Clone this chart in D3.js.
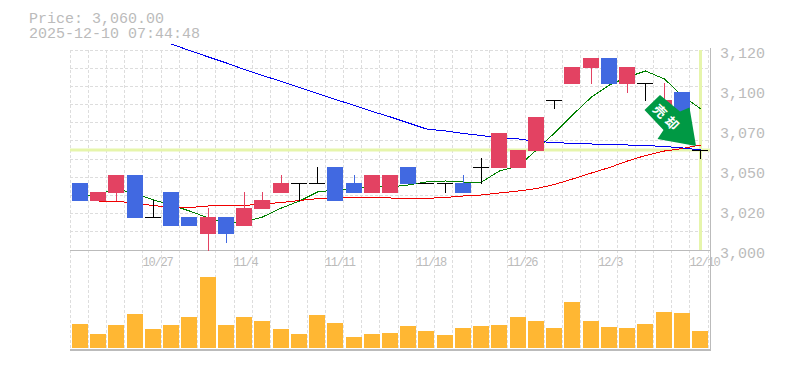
<!DOCTYPE html>
<html>
<head>
<meta charset="utf-8">
<script src="https://cdn.jsdelivr.net/npm/d3@7"></script>
<style>
html, body { margin: 0; padding: 0; background: #fff; }
svg { display: block; }
text { font-family: "Liberation Mono", monospace; fill: #bbb; }
</style>
</head>
<body>
<script>
const titleLines = ["Price: 3,060.00", "2025-12-10 07:44:48"]

const opens = [3040, 3030, 3035, 3045, 3020, 3035, 3020, 3010, 3020, 3015, 3025, 3035, 3040, 3040, 3050, 3040, 3035, 3035, 3050, 3040, 3040, 3040, 3050, 3050, 3050, 3060, 3090, 3100, 3110, 3115, 3100, 3100, 3080, 3095, 3060]
const closes = [3030, 3035, 3045, 3020, 3020, 3015, 3015, 3020, 3010, 3025, 3030, 3040, 3040, 3040, 3030, 3035, 3045, 3045, 3040, 3040, 3040, 3035, 3050, 3070, 3060, 3080, 3090, 3110, 3115, 3100, 3110, 3100, 3090, 3080, 3060]
const highs = [3040, 3035, 3045, 3045, 3030, 3035, 3020, 3025, 3020, 3035, 3035, 3045, 3040, 3050, 3050, 3045, 3045, 3045, 3050, 3040, 3040, 3045, 3055, 3070, 3060, 3080, 3090, 3110, 3115, 3115, 3110, 3100, 3100, 3095, 3060]
const lows = [3030, 3030, 3030, 3020, 3020, 3015, 3015, 3000, 3005, 3015, 3025, 3035, 3030, 3040, 3030, 3035, 3035, 3035, 3040, 3040, 3035, 3035, 3040, 3050, 3050, 3060, 3085, 3100, 3100, 3100, 3095, 3090, 3080, 3080, 3055]
const volumes = [80, 47, 77, 113, 63, 77, 103, 237, 77, 103, 90, 63, 47, 110, 83, 37, 47, 50, 73, 57, 43, 67, 73, 77, 103, 90, 67, 153, 90, 70, 67, 80, 120, 117, 57]

const maShort = [3031.8, 3033.6, 3036.6, 3033.9, 3030, 3027, 3023.4, 3019.2, 3016.2, 3016.8, 3019.8, 3025.2, 3029.4, 3034.8, 3036, 3036.6, 3038.4, 3037.8, 3039, 3040.8, 3041.4, 3040.8, 3040.8, 3047.4, 3050.4, 3060, 3070.2, 3081, 3091.8, 3099, 3103.8, 3107.4, 3102.6, 3092.4, 3084.8]
const maMid = [null, 3029.4, 3029.4, 3027.9, 3026.7, 3025.6, 3025.5, 3026.4, 3026.7, 3026.7, 3027.6, 3028.5, 3029.7, 3030.8, 3031.5, 3031.6, 3031.6, 3031.2, 3031, 3031, 3031.5, 3032.4, 3033, 3034.2, 3035.4, 3036.9, 3039.3, 3042.6, 3046.2, 3049.5, 3053.4, 3056.7, 3059.4, 3060.9, 3063]
const maLong = [null, null, null, null, null, 3123.6, 3119.7, 3115.8, 3112.2, 3108.3, 3104.7, 3101.1, 3097.5, 3093.9, 3090.3, 3086.7, 3083.1, 3079.8, 3076.2, 3072.6, 3071.4, 3069.9, 3068.7, 3067.2, 3066.6, 3065.1, 3064.5, 3063.9, 3063.6, 3063.3, 3063, 3062.7, 3062.1, 3061.2, 3060]

const priceTicks = [3000, 3024, 3048, 3072, 3096, 3120]
const priceLabels = ["3,000", "3,020", "3,050", "3,070", "3,100", "3,120"]
const dateIndexes = [4, 9, 14, 19, 24, 29, 34]
const dateLabels = ["10/27", "11/4", "11/11", "11/18", "11/26", "12/3", "12/10"]
const lastPrice = 3060

const width = 785
const height = 370

const red = "#e34262"
const blue = "#4169e1"
const gridColor = "#ddd"
const axisColor = "#bbb"
const hiliteColor = "#e6f5ab"

const x = d3.scaleLinear().domain([0, 35]).range([70, 708.235])
const y = d3.scaleLinear().domain([3000, 3120]).range([250, 50])
const yVol = d3.scaleLinear().domain([0, 300]).range([348, 258])
const yGrid = d3.scaleLinear().domain([0, 11]).range([50, 250])

const barLeft = i => Math.round(x(i) + 2)
const barMid = i => barLeft(i) + 8.5

const svg = d3.select("body").append("svg")
    .attr("xmlns", "http://www.w3.org/2000/svg")
    .attr("width", width)
    .attr("height", height)

// grid
const grid = svg.append("g")
    .attr("stroke", gridColor)
    .attr("stroke-dasharray", "3,2")
    .attr("shape-rendering", "crispEdges")

grid.selectAll(".v").data(d3.range(36)).enter().append("line")
    .attr("class", "v")
    .attr("x1", d => Math.floor(x(d)) + 0.5)
    .attr("x2", d => Math.floor(x(d)) + 0.5)
    .attr("y1", 50)
    .attr("y2", 350)

grid.selectAll(".h").data(d3.range(11)).enter().append("line")
    .attr("class", "h")
    .attr("x1", 70)
    .attr("x2", 710)
    .attr("y1", d => Math.floor(yGrid(d)) + 0.5)
    .attr("y2", d => Math.floor(yGrid(d)) + 0.5)

// current price and current bar markers
svg.append("line")
    .attr("x1", 70).attr("x2", 710)
    .attr("y1", y(lastPrice)).attr("y2", y(lastPrice))
    .attr("stroke", hiliteColor).attr("stroke-width", 3)

svg.append("line")
    .attr("x1", barMid(34)).attr("x2", barMid(34))
    .attr("y1", 50).attr("y2", 250)
    .attr("stroke", hiliteColor).attr("stroke-width", 3)

// frame
const frame = svg.append("g")
    .attr("stroke", axisColor)
    .attr("shape-rendering", "crispEdges")
frame.append("line").attr("x1", 70).attr("x2", 710).attr("y1", 250.5).attr("y2", 250.5)
frame.append("line").attr("x1", 70).attr("x2", 710).attr("y1", 349.5).attr("y2", 349.5)
frame.append("line").attr("x1", 70).attr("x2", 710).attr("y1", 350.5).attr("y2", 350.5)
frame.append("line").attr("x1", 710.5).attr("x2", 710.5).attr("y1", 48).attr("y2", 351)

// moving averages
const maLine = d3.line()
    .defined(d => d != null)
    .x((d, i) => barMid(i))
    .y(d => y(d))

svg.selectAll(".ma")
    .data([[maShort, "#008000"], [maMid, "#f00000"], [maLong, "#0000f0"]])
    .enter().append("path")
    .attr("class", "ma")
    .attr("d", d => maLine(d[0]))
    .attr("fill", "none")
    .attr("stroke", d => d[1])
    .attr("stroke-width", 1)
    .attr("shape-rendering", "crispEdges")

// candles
const candleColor = i => closes[i] > opens[i] ? red : closes[i] < opens[i] ? blue : "#000"

const candles = svg.append("g").attr("shape-rendering", "crispEdges")

candles.selectAll(".wick").data(d3.range(35)).enter().append("line")
    .attr("class", "wick")
    .attr("x1", i => barMid(i))
    .attr("x2", i => barMid(i))
    .attr("y1", i => Math.round(y(highs[i])))
    .attr("y2", i => Math.round(y(lows[i])) + 1)
    .attr("stroke", candleColor)

candles.selectAll(".body").data(d3.range(35)).enter().append("rect")
    .attr("class", "body")
    .attr("x", barLeft)
    .attr("width", 16)
    .attr("y", i => Math.round(y(Math.max(opens[i], closes[i]))))
    .attr("height", i => Math.round(y(Math.min(opens[i], closes[i]))) - Math.round(y(Math.max(opens[i], closes[i]))) + 1)
    .attr("fill", candleColor)

// volume
svg.append("g").selectAll("rect").data(volumes).enter().append("rect")
    .attr("x", (d, i) => barLeft(i))
    .attr("width", 16)
    .attr("y", d => Math.round(yVol(d)))
    .attr("height", d => 348 - Math.round(yVol(d)))
    .attr("fill", "#ffb733")

// axes
const priceAxis = d3.axisRight(y)
    .tickValues(priceTicks)
    .tickFormat((d, i) => priceLabels[i])
    .tickSize(0)
    .tickPadding(0)

svg.append("g")
    .attr("transform", "translate(720,0)")
    .call(priceAxis)
    .call(g => g.select(".domain").remove())
    .selectAll("text")
    .attr("dy", null)
    .attr("y", 7)
    .style("font-family", "'Liberation Mono', monospace")
    .style("font-size", "15px")
    .style("fill", axisColor)

const dateAxis = d3.axisBottom(x)
    .tickValues(dateIndexes)
    .tickFormat((d, i) => dateLabels[i])
    .tickSize(0)
    .tickPadding(0)

svg.append("g")
    .attr("transform", "translate(-1,0)")
    .call(dateAxis)
    .call(g => g.select(".domain").remove())
    .selectAll("text")
    .attr("dy", null)
    .attr("y", 266)
    .attr("text-anchor", "start")
    .style("font-family", "'Liberation Mono', monospace")
    .style("font-size", "12px")
    .style("letter-spacing", "-1.2px")
    .style("fill", axisColor)

// title
svg.selectAll(".title").data(titleLines).enter().append("text")
    .attr("class", "title")
    .attr("x", 29)
    .attr("y", (d, i) => 23 + i * 15)
    .attr("font-size", 15)
    .text(d => d)

// arrow annotation
svg.append("polygon")
    .attr("points", "660,95 680,111.5 689.5,107.5 696,146 657.5,139 663.5,130 644.5,110")
    .attr("fill", "#009944")

svg.selectAll(".arrow-label").data(["売", "却"]).enter().append("text")
    .attr("class", "arrow-label")
    .attr("transform", (d, i) => `translate(${660 + i * 12},${111 + i * 12}) rotate(45)`)
    .attr("text-anchor", "middle")
    .attr("dy", "0.38em")
    .style("font-family", "'Noto Sans CJK JP', sans-serif")
    .style("font-size", "13px")
    .style("font-weight", "700")
    .style("fill", "#fff")
    .text(d => d)
</script>
</body>
</html>
